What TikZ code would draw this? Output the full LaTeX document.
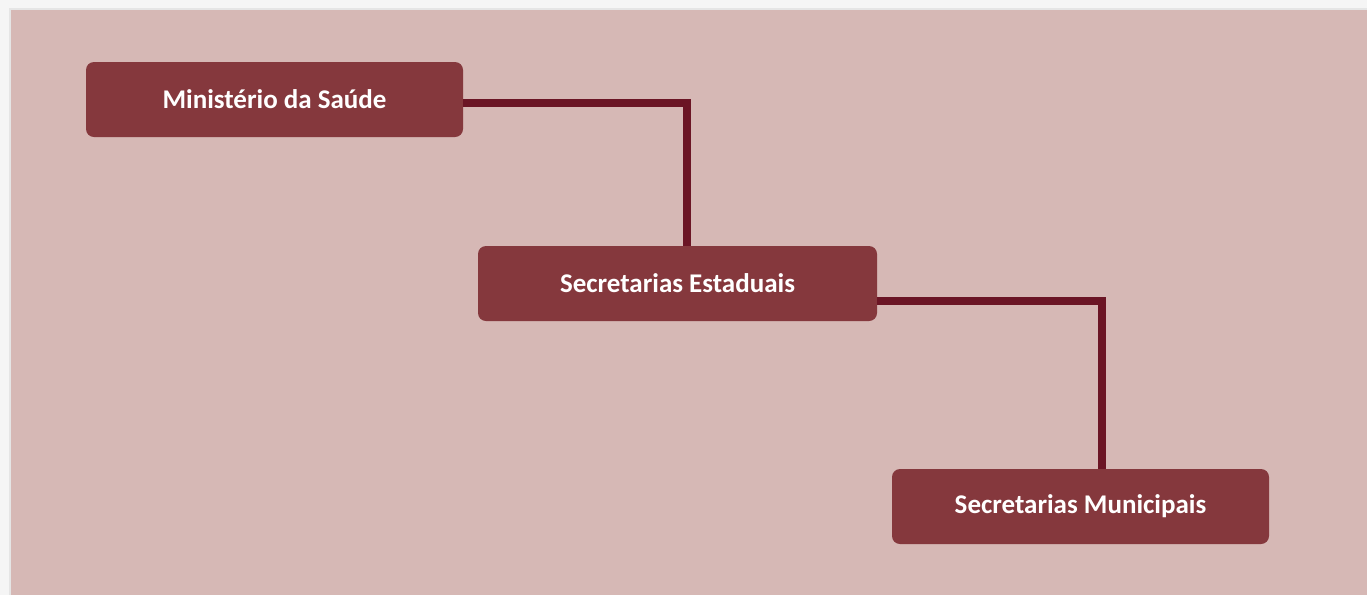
\documentclass[tikz,border=0pt]{standalone}
\usepackage{fontspec}
\setmainfont{Carlito}
\definecolor{bgpink}{HTML}{D6B8B5}
\definecolor{boxred}{HTML}{85383D}
\definecolor{linered}{HTML}{6B1525}
\tikzset{
  orgbox/.style={fill=boxred, rounded corners=8pt, text=white, font=\fontsize{27}{32}\selectfont\bfseries,
    minimum width=377pt, minimum height=75pt, inner sep=0pt},
  link/.style={draw=linered, line width=8pt}
}
\begin{document}
\begin{tikzpicture}[x=1pt,y=-1pt]
    \useasboundingbox (0,0) rectangle (1367,595);

    % background
    \fill[white!96!black] (0,0) rectangle (1367,595);
    \fill[black!10] (9,8) rectangle (1367,595);
    \fill[bgpink] (11,10) rectangle (1367,595);

    % boxes
    \node[orgbox] (ms) at (274.5,99.5) {Ministério da Saúde};
    \node[orgbox, minimum width=399pt] (se) at (677.5,283.5) {Secretarias Estaduais};
    \node[orgbox] (sm) at (1080.5,506.5) {Secretarias Municipais};

    % connectors
    \draw[link] ([yshift=-3.5pt]ms.east) -| ([xshift=9.5pt]se.north);
    \draw[link] ([yshift=-17.5pt]se.east) -| ([xshift=21.5pt]sm.north);
\end{tikzpicture}
\end{document}
